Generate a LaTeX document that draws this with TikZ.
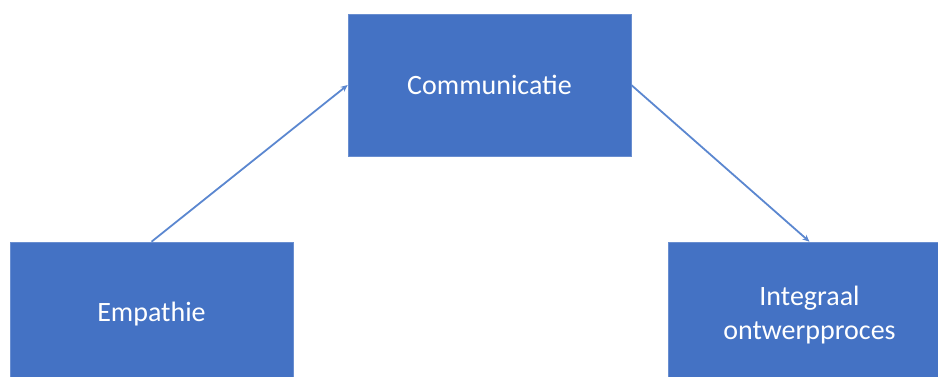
\documentclass[tikz,border=0pt]{standalone}
\usepackage{fontspec}
\setmainfont{Carlito}
\usetikzlibrary{arrows.meta}
\definecolor{boxblue}{HTML}{4472C4}
\definecolor{linkblue}{HTML}{5B87D0}
\begin{document}
\begin{tikzpicture}[x=1pt,y=-1pt,
  block/.style={fill=boxblue,draw=boxblue!80!white,line width=0.6pt,
    text=white,font=\fontsize{28}{34}\selectfont,align=center,inner sep=0pt},
  link/.style={draw=linkblue,line width=1.8pt,-{Stealth[length=7pt,width=6pt]}}]
  \useasboundingbox (0,0) rectangle (938,376);
  \begin{scope}
    % the lower boxes run past the bottom edge
    \clip (0,0) rectangle (938,376);
    \node[block,minimum width=283pt,minimum height=142pt] (comm) at (489.5,85) {Communicatie};
    \node[block,minimum width=283pt,minimum height=144pt] (emp) at (151.5,314) {Empathie};
    \node[block,minimum width=283pt,minimum height=146pt] (int) at (809.5,315) {Integraal\\ontwerpproces};
  \end{scope}
  \draw[link] (emp.north) -- (comm.west);
  \draw[link] (comm.east) -- (int.north);
\end{tikzpicture}
\end{document}
